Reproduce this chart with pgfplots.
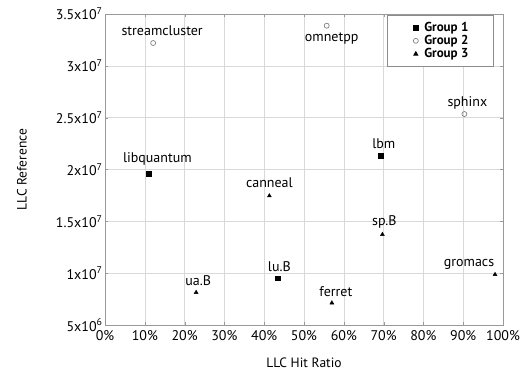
\documentclass[border=0pt]{standalone}
\usepackage{pgfplots}
\usepackage{pgfplotstable}
\pgfplotsset{compat=1.18}
\usepackage{fontspec}
\setmainfont{PT Sans}
\definecolor{gridc}{HTML}{D9D9D9}
\definecolor{axc}{HTML}{999999}
\definecolor{legc}{HTML}{8C8C8C}
\definecolor{circc}{HTML}{808080}

\pgfplotstableread{
x y label dx dy
10.9 1.956e7 libquantum 9 15
69.3 2.132e7 lbm 3 12
43.3 9.52e6 lu.B 2 12
}\groupA
\pgfplotstableread{
x y label dx dy
12.1 3.22e7 streamcluster 9 12
55.7 3.387e7 omnetpp 5 -13
90.3 2.535e7 sphinx 3 11
}\groupB
\pgfplotstableread{
x y label dx dy
41.3 1.746e7 canneal 0 13
69.7 1.373e7 sp.B 2 13
98.0 9.87e6 gromacs -26 10
57.0 7.13e6 ferret 4 11
22.9 8.14e6 ua.B 2 12
}\groupC

\pgfplotsset{mylegimg/.style={legend image code/.code={\draw[##1] plot coordinates {(27bp,0bp)};\path (0bp,0bp) (33bp,0bp);}}}

\begin{document}
\begin{tikzpicture}
\begin{axis}[
  name=ax,
  scale only axis,
  width=398bp, height=311bp,
  xmin=0, xmax=100, ymin=5e6, ymax=3.5e7,
  xtick={0,10,...,100},
  xticklabels={0\%,10\%,20\%,30\%,40\%,50\%,60\%,70\%,80\%,90\%,100\%},
  ytick={5e6,1e7,1.5e7,2e7,2.5e7,3e7,3.5e7},
  yticklabels={5x10\textsuperscript{6},1x10\textsuperscript{7},1.5x10\textsuperscript{7},2x10\textsuperscript{7},2.5x10\textsuperscript{7},3x10\textsuperscript{7},3.5x10\textsuperscript{7}},
  scaled y ticks=false,
  tick label style={font=\fontsize{14bp}{16bp}\selectfont},
  xticklabel style={yshift=-2bp},
  yticklabel style={xshift=1bp},
  grid=major,
  major grid style={gridc, line width=0.6pt},
  axis line style={axc, line width=0.8pt},
  tick style={axc},
  major tick length=3bp,
  every axis x label/.style={at={(rel axis cs:0.5,0)}, yshift=-38bp, anchor=center},
  every axis y label/.style={at={(rel axis cs:0,0.5)}, xshift=-83bp, rotate=90, anchor=center},
  xlabel={LLC Hit Ratio},
  ylabel={LLC Reference},
  label style={font=\fontsize{13.5bp}{15bp}\selectfont},
  legend style={at={(rel axis cs:0.977,0.996)}, anchor=north east, draw=legc, line width=0.9pt,
    font=\fontsize{13bp}{14bp}\selectfont\bfseries, row sep=-1.5bp, inner xsep=1bp, inner ysep=4.5bp},
  legend cell align=left,
  nodes near coords,
  point meta=explicit symbolic,
  visualization depends on={\thisrow{dx} \as \dx},
  visualization depends on={\thisrow{dy} \as \dy},
  every node near coord/.style={anchor=center, xshift=\dx bp, yshift=\dy bp, black,
    font=\fontsize{14bp}{16bp}\selectfont},
]
\addplot[only marks, mark=square*, mark size=2.4bp, black, mylegimg] table[x=x, y=y, meta=label] {\groupA};
\addlegendentry{Group 1\rule{22bp}{0pt}}
\addplot[only marks, mark=o, mark size=2.5bp, circc, mark options={line width=0.7pt}, mylegimg] table[x=x, y=y, meta=label] {\groupB};
\addlegendentry{Group 2\rule{22bp}{0pt}}
\addplot[only marks, mark=triangle*, mark size=2.3bp, black, mylegimg] table[x=x, y=y, meta=label] {\groupC};
\addlegendentry{Group 3\rule{22bp}{0pt}}
\end{axis}
\pgfresetboundingbox
\path (ax.south west) ++(-105bp,-48bp) coordinate (bl);
\path (ax.north east) ++(20bp,14bp) coordinate (tr);
\path (bl) rectangle (tr);
\end{tikzpicture}
\end{document}
